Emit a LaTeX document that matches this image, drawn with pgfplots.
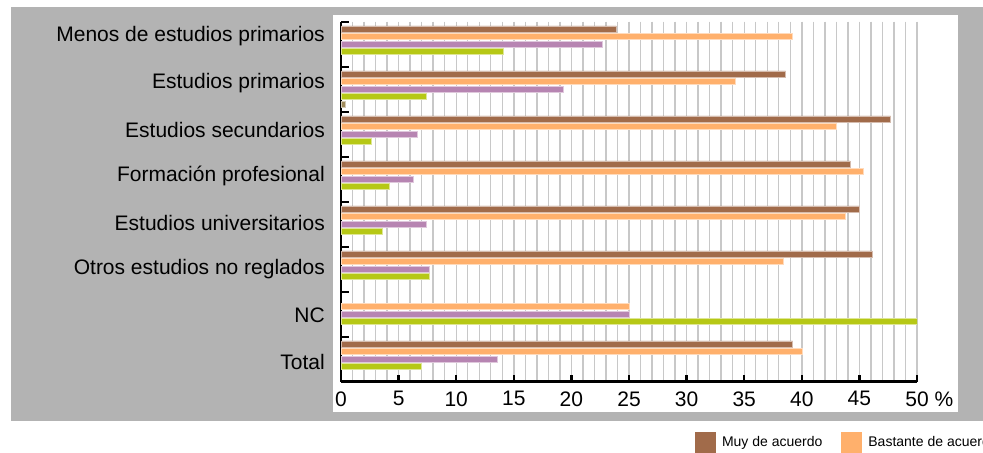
\documentclass[border=0pt]{standalone}
\usepackage{fontspec}
\setmainfont{Liberation Sans}
\usepackage{pgfplots}
\pgfplotsset{compat=1.18}

\definecolor{panelgray}{RGB}{179,179,179}
\definecolor{gridgray}{RGB}{200,200,200}
\definecolor{brn}{RGB}{161,107,74}
\definecolor{org}{RGB}{255,176,108}
\definecolor{pur}{RGB}{183,133,178}
\definecolor{grn}{RGB}{182,200,22}
\definecolor{kha}{RGB}{158,138,90}

\begin{document}
\begin{tikzpicture}[x=1bp,y=1bp]
\useasboundingbox (0,0) rectangle (983,453);
\clip (0,0) rectangle (983,453);
\fill[panelgray] (11,32) rectangle (983,446);
\fill[white] (333,41) rectangle (958,438);
\begin{axis}[
    at={(341bp,71.3bp)}, anchor=south west,
    scale only axis, width=576bp, height=360bp,
    xbar=1.6bp, bar width=6bp,
    xmin=0, xmax=50, ymin=0.5, ymax=8.5, y dir=reverse,
    axis x line=bottom, axis y line=left,
    x axis line style={-, line width=2.5bp},
    y axis line style={-, line width=1.5bp},
    tick align=inside,
    xtick={0,5,...,50},
    xticklabels={0,5,10,15,20,25,30,35,40,45,50\rlap{\ \%}},
    minor x tick num=4,
    xmajorgrids, xminorgrids,
    grid style={draw=gridgray, line width=1.4bp},
    minor x tick style={draw=none},
    major x tick style={line width=2.5bp, black},
    major tick length=7bp,
    ytick={0.82,1.86,2.90,3.93,4.97,6.00,7.03,8.06},
    yticklabels={Menos de estudios primarios, Estudios primarios,
        Estudios secundarios, Formación profesional,
        Estudios universitarios, Otros estudios no reglados, NC, Total},
    major y tick style={draw=none},
    minor ytick={0.5,1.5,...,8.5},
    minor y tick style={line width=2bp, black},
    minor tick length=8bp,
    tick label style={font=\fontsize{21bp}{25bp}\selectfont},
    /pgf/number format/assume math mode=true,
    yticklabel style={inner sep=0pt, xshift=-16bp},
    xticklabel style={inner sep=0pt, yshift=-9.5bp},
    legend columns=-1,
    reverse legend,
    legend style={at={(0.6146,-0.1689)}, anchor=west, draw=none, fill=none,
        inner sep=0pt, outer sep=0pt,
        font=\fontsize{14bp}{16bp}\selectfont,
        nodes={inner sep=0pt},
        /tikz/every odd column/.append style={column sep=6bp},
        /tikz/every even column/.append style={column sep=19bp}},
    legend image code/.code={\path[#1, draw=none] (0bp,-10.5bp) rectangle (21bp,10.5bp);},
]
% plotted bottom-up so that the first series sits on top of each group
% NS/NC
\addplot[fill=kha, draw=kha!45!white, line width=0.6bp] coordinates {
    (0.4,2)};
% Nada de acuerdo
\addplot[fill=grn, draw=grn!45!white, line width=0.6bp] coordinates {
    (14.1,1) (7.4,2) (2.6,3) (4.2,4) (3.6,5) (7.7,6) (50.0,7) (7.0,8)};
% Algo de acuerdo
\addplot[fill=pur, draw=pur!45!white, line width=0.6bp] coordinates {
    (22.7,1) (19.3,2) (6.6,3) (6.3,4) (7.4,5) (7.7,6) (25.0,7) (13.6,8)};
% Bastante de acuerdo
\addplot[fill=org, draw=org!45!white, line width=0.6bp] coordinates {
    (39.2,1) (34.2,2) (43.0,3) (45.3,4) (43.8,5) (38.4,6) (25.0,7) (40.0,8)};
% Muy de acuerdo
\addplot[fill=brn, draw=brn!45!white, line width=0.6bp] coordinates {
    (23.9,1) (38.6,2) (47.7,3) (44.2,4) (45.0,5) (46.1,6) (39.2,8)};
\legend{NS/NC, Nada de acuerdo, Algo de acuerdo, Bastante de acuerdo, Muy de acuerdo}
\end{axis}
\end{tikzpicture}
\end{document}
